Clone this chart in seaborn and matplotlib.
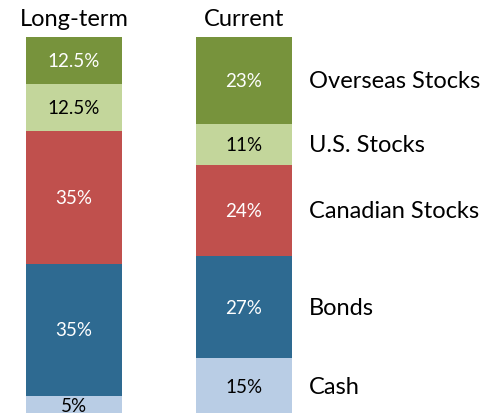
import numpy as np
import matplotlib
matplotlib.use("Agg")
import matplotlib.pyplot as plt
import seaborn as sns

allocations = ["Long-term", "Current"]
assets = ["Cash", "Bonds", "Canadian Stocks", "U.S. Stocks", "Overseas Stocks"]
long_term = [5, 35, 35, 12.5, 12.5]
current = [15, 27, 24, 11, 23]
colors = ["#B9CDE5", "#2E6A91", "#C0504D", "#C3D69B", "#77933C"]
text_colors = ["black", "white", "white", "black", "white"]

sns.set_theme(style="white")
plt.rcParams["font.family"] = ["Lato", "DejaVu Sans"]

fig = plt.figure(figsize=(5, 4.14), dpi=100)
ax = fig.add_axes([0, 0, 1, (414 - 38) / 414])

values = np.array([long_term, current])  # rows = allocation, cols = asset
cum = values.cumsum(axis=1)

# draw from the top segment down so each layer covers the one below
for i in range(len(assets) - 1, -1, -1):
    sns.barplot(x=allocations, y=cum[:, i], color=colors[i], saturation=1,
                width=0.565, linewidth=0, edgecolor="none", ax=ax)

for j in range(len(allocations)):
    for i in range(len(assets)):
        mid = cum[j, i] - values[j, i] / 2
        ax.text(j, mid, f"{values[j, i]:g}%", ha="center", va="center",
                fontsize=13.5, color=text_colors[i])
    ax.text(j, 104.8, allocations[j], ha="center", va="center",
            fontsize=17, color="black", clip_on=False)

for i, name in enumerate(assets):
    mid = cum[1, i] - values[1, i] / 2
    ax.text(1.38, mid, name, ha="left", va="center", fontsize=17,
            color="black")

ax.set_xlim(-0.435, 2.506)
ax.set_ylim(0.5, 100)
ax.set_axis_off()

fig.savefig("out.png", dpi=100)
